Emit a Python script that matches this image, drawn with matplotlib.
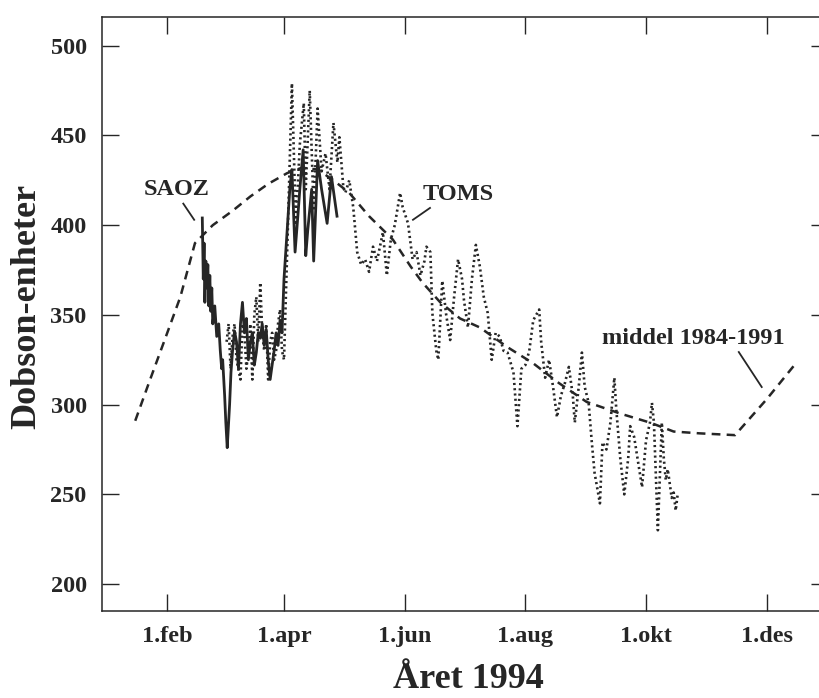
import matplotlib.pyplot as plt

# ozone column over the year, day-of-year vs Dobson units
saoz_day = [49.7, 50.2, 50.6, 51, 51.5, 52, 52.5, 53, 53.5, 54, 54.5, 55, 56, 57, 58, 58.8, 59.5, 60,
            61, 61.6, 62.3, 63, 63.5, 64.2, 65, 66, 67, 68, 69, 70, 71, 72, 73, 74, 75, 76, 77, 78,
            79, 80, 81, 82, 83, 84, 85, 86, 87, 88, 89, 90, 91, 92.6, 94, 95, 96.6, 98, 99, 100.7,
            102, 103, 105, 106, 108, 110, 112.8, 115, 117.8]
saoz_du = [404, 370, 390, 357, 380, 365, 378, 355, 372, 352, 365, 345, 355, 338, 345, 330, 320, 325,
           305, 290, 276, 290, 300, 318, 330, 341, 335, 320, 345, 357, 340, 348, 325, 335, 340, 322, 329, 340,
           337, 345, 333, 342, 325, 314, 322, 330, 340, 333, 347, 340, 370, 397, 421, 431, 385, 405, 420, 442,
           383, 397, 420, 380, 436, 420, 401, 427, 405]

toms_day = [62, 63, 64, 65, 66, 67, 69, 70, 71, 72, 73, 74, 75, 76, 77, 78, 79, 80, 81, 82, 83, 84, 85,
            86, 87, 88, 89, 90, 91, 93, 95, 97, 99, 101,
            102, 104, 106, 108, 110, 112, 114, 116, 118, 119, 121, 122, 124, 126, 128, 130, 132, 134,
            136, 138, 141, 143, 145, 147, 149.7, 151, 153.7, 156, 158, 160, 162, 163, 165, 166, 168,
            169, 171, 173, 175, 177, 179, 181, 182, 184, 186, 188, 190, 192, 194, 196, 198, 200, 202,
            204, 207, 209, 211, 213, 215, 217, 220, 221, 223, 225, 227, 229, 231, 233, 235, 237, 238,
            240, 241.6, 243, 245, 246.6, 248, 250.7, 252, 254, 256, 258, 259, 261, 263, 265, 266, 268,
            270, 272, 274, 276, 277, 278, 280, 282, 283, 284, 285, 287, 288, 289, 290]
toms_du = [335, 345, 320, 338, 345, 325, 314, 345, 340, 320, 330, 345, 314, 350, 360, 335, 368, 340, 330,
           345, 314, 335, 340, 325, 330, 345, 353, 330, 325, 400, 479, 400, 445, 468,
           420, 475, 408, 465, 430, 440, 420, 457, 435, 449, 421, 418, 425, 410, 385, 378, 381, 374,
           388, 380, 396, 372, 392, 400, 418, 410, 401, 381, 385, 372, 380, 388, 385, 351, 330,
           325, 369, 350, 336, 360, 381, 370, 358, 343, 370, 389, 377, 360, 351, 325, 340, 338, 330,
           329, 318, 288, 320, 322, 330, 347, 353, 335, 315, 325, 310, 293, 305, 312, 321, 305, 290,
           310, 329, 310, 301, 279, 262, 245, 279, 275, 290, 315, 297, 270, 250, 270, 288, 282,
           268, 254, 280, 290, 301, 290, 230, 290, 270, 258, 264, 248, 251, 241, 250]

mean_day = [15.8, 23, 31, 38.6, 46, 55, 65, 74, 83, 92.6, 100, 108, 116, 124, 134, 146, 155, 161,
            170, 180, 190, 204, 217, 230, 244, 261, 276, 288, 301, 319, 335, 349]
mean_du = [291, 313, 337, 360, 390, 400, 408, 416, 423, 429, 432, 431, 425, 418, 405, 392, 377, 368,
           357, 348, 343, 332, 323, 312, 301.5, 295, 290, 285, 284, 283, 303, 322]

tick_days = [32, 91, 152, 213, 274, 335]
tick_names = ['1.feb', '1.apr', '1.jun', '1.aug', '1.okt', '1.des']
y_ticks = [200, 250, 300, 350, 400, 450, 500]

ink = '#262626'
plt.rcParams['font.family'] = ['Liberation Serif', 'DejaVu Serif']
plt.rcParams['font.weight'] = 'bold'

fig = plt.figure(figsize=(8.2, 6.98), dpi=100)
ax = fig.add_axes([102 / 820, 87 / 698, 726 / 820, 594 / 698])

ax.plot(mean_day, mean_du, color=ink, lw=1.8, ls=(0, (3.5, 2.5)))
ax.plot(toms_day, toms_du, color=ink, lw=1.9, ls=(0, (0.8, 1.2)))
ax.plot(saoz_day, saoz_du, color=ink, lw=2.0)

ax.set_xlim(-1, 366)
ax.set_ylim(185, 516)
ax.set_xticks(tick_days)
ax.set_xticklabels(tick_names)
ax.set_yticks(y_ticks)
ax.tick_params(direction='in', length=12, width=1.0, colors=ink, labelsize=17.5,
               top=True, right=True, pad=11)
for s in ax.spines.values():
    s.set_color(ink)
    s.set_linewidth(1.1)

# labels with leader lines
ax.text(36.5, 420, 'SAOZ', fontsize=17.5, ha='center', va='center', color=ink)
ax.plot([40.1, 45.6], [412, 403], color=ink, lw=1.3)
ax.text(179, 417, 'TOMS', fontsize=17.5, ha='center', va='center', color=ink)
ax.plot([164.8, 156.2], [409.6, 403], color=ink, lw=1.3)
ax.text(298, 337, 'middel 1984-1991', fontsize=17.5, ha='center', va='center', color=ink)
ax.plot([320.9, 332.5], [329.3, 309.8], color=ink, lw=1.3)

fig.text(27 / 820, 1 - 306 / 698, 'Dobson-enheter', rotation=90, fontsize=26,
         ha='center', va='center', color=ink)
fig.text(468 / 820, 1 - 680 / 698, 'Året 1994', fontsize=26, ha='center', va='center', color=ink)

fig.savefig('out.png', dpi=100)
